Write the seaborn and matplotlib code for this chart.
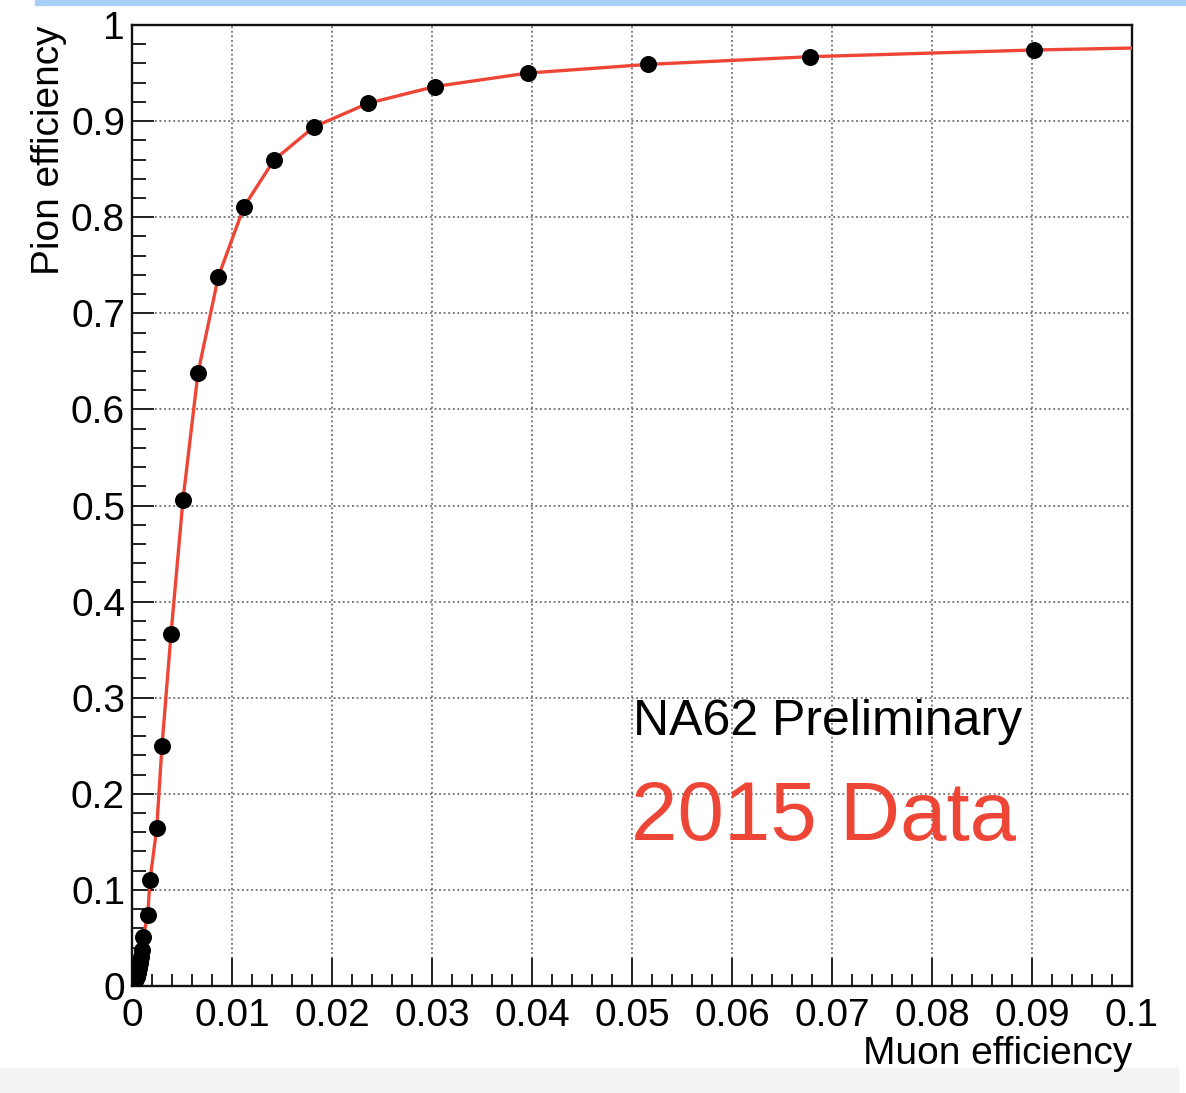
import matplotlib
matplotlib.use("Agg")
import matplotlib.pyplot as plt
import seaborn as sns
import pandas as pd
from matplotlib.ticker import MultipleLocator, FixedLocator, FixedFormatter
from matplotlib.patches import Rectangle

# ---- data ----
muon_eff = [0.0, 0.0001, 0.0003, 0.0005, 0.0006, 0.0007, 0.0008, 0.0009, 0.0010,
            0.00113, 0.00157, 0.0018, 0.00247, 0.0030, 0.0039, 0.0051, 0.0066,
            0.00863, 0.0112, 0.0142, 0.0182, 0.0236, 0.0303, 0.0396, 0.0516,
            0.0678, 0.0902]
pion_eff = [0.0005, 0.002, 0.005, 0.009, 0.0135, 0.019, 0.024, 0.030, 0.037,
            0.051, 0.074, 0.110, 0.164, 0.250, 0.366, 0.506, 0.638,
            0.738, 0.811, 0.8595, 0.894, 0.9185, 0.936, 0.950, 0.959,
            0.967, 0.974]
# fitted curve
fit_x = [0.0] + muon_eff[1:] + [0.1]
fit_y = [0.0] + pion_eff[1:] + [0.976]

x_ticks = [0.0, 0.01, 0.02, 0.03, 0.04, 0.05, 0.06, 0.07, 0.08, 0.09, 0.1]
x_ticklabels = ["0", "0.01", "0.02", "0.03", "0.04", "0.05", "0.06", "0.07", "0.08", "0.09", "0.1"]
y_ticks = [0.0, 0.1, 0.2, 0.3, 0.4, 0.5, 0.6, 0.7, 0.8, 0.9, 1.0]
y_ticklabels = ["0", "0.1", "0.2", "0.3", "0.4", "0.5", "0.6", "0.7", "0.8", "0.9", "1"]

pts = pd.DataFrame({"muon": muon_eff, "pion": pion_eff})
fit = pd.DataFrame({"muon": fit_x, "pion": fit_y})

sns.set_theme(style="white")
plt.rcParams["font.family"] = ["Liberation Sans", "DejaVu Sans"]
plt.rcParams["text.color"] = "black"
plt.rcParams["axes.labelcolor"] = "black"
plt.rcParams["xtick.color"] = "black"
plt.rcParams["ytick.color"] = "black"

fig = plt.figure(figsize=(11.86, 10.93), dpi=100)
ax = fig.add_axes([132/1186, 1-986/1093, (1132-132)/1186, (986-25)/1093])

red = "#ee4636"
sns.lineplot(data=fit, x="muon", y="pion", ax=ax, color=red, lw=2.4,
             sort=False, estimator=None, zorder=3)
sns.scatterplot(data=pts, x="muon", y="pion", ax=ax, color="black", s=150,
                edgecolor="black", linewidth=0, zorder=4)

ax.set_xlim(0, 0.1)
ax.set_ylim(0, 1)
ax.xaxis.set_major_locator(FixedLocator(x_ticks))
ax.xaxis.set_major_formatter(FixedFormatter(x_ticklabels))
ax.yaxis.set_major_locator(FixedLocator(y_ticks))
ax.yaxis.set_major_formatter(FixedFormatter(y_ticklabels))
ax.xaxis.set_minor_locator(MultipleLocator(0.002))
ax.yaxis.set_minor_locator(MultipleLocator(0.02))

ax.grid(True, which="major", color="#555555", linestyle=(0, (1.2, 1.8)), linewidth=1.1)
ax.set_axisbelow(True)

ax.tick_params(axis="x", which="major", direction="in", length=20, width=1.4,
               color="#222222", labelsize=28, pad=9, bottom=True, top=False)
ax.tick_params(axis="x", which="minor", direction="in", length=9, width=1.4,
               color="#222222", bottom=True, top=False)
ax.tick_params(axis="y", which="major", direction="in", length=16, width=1.4,
               color="#222222", labelsize=28, pad=5, left=True, right=False)
ax.tick_params(axis="y", which="minor", direction="in", length=10, width=1.4,
               color="#222222", left=True, right=False)

for sp in ax.spines.values():
    sp.set_visible(True)
    sp.set_color("#111111")
    sp.set_linewidth(1.7)

ax.set_xlabel("Muon efficiency", fontsize=28, ha="right", x=1.0, labelpad=1)
ax.set_ylabel("Pion efficiency", fontsize=28, ha="right", y=1.0, labelpad=3)

ax.text(0.0501, 0.261, "NA62 Preliminary", fontsize=36, color="black",
        ha="left", va="baseline")
ax.text(0.0499, 0.152, "2015 Data", fontsize=60, color=red,
        ha="left", va="baseline")

# decorative bands (screenshot frame), drawn beneath everything
fig.patches.append(Rectangle((35/1186, 1-5/1093), 1-35/1186, 5/1093,
                             transform=fig.transFigure, color="#a8cff5", zorder=-5))
fig.patches.append(Rectangle((0, 0), 1178/1186, 25/1093,
                             transform=fig.transFigure, color="#f3f3f3", zorder=-5))

fig.savefig("out.png", dpi=100)
